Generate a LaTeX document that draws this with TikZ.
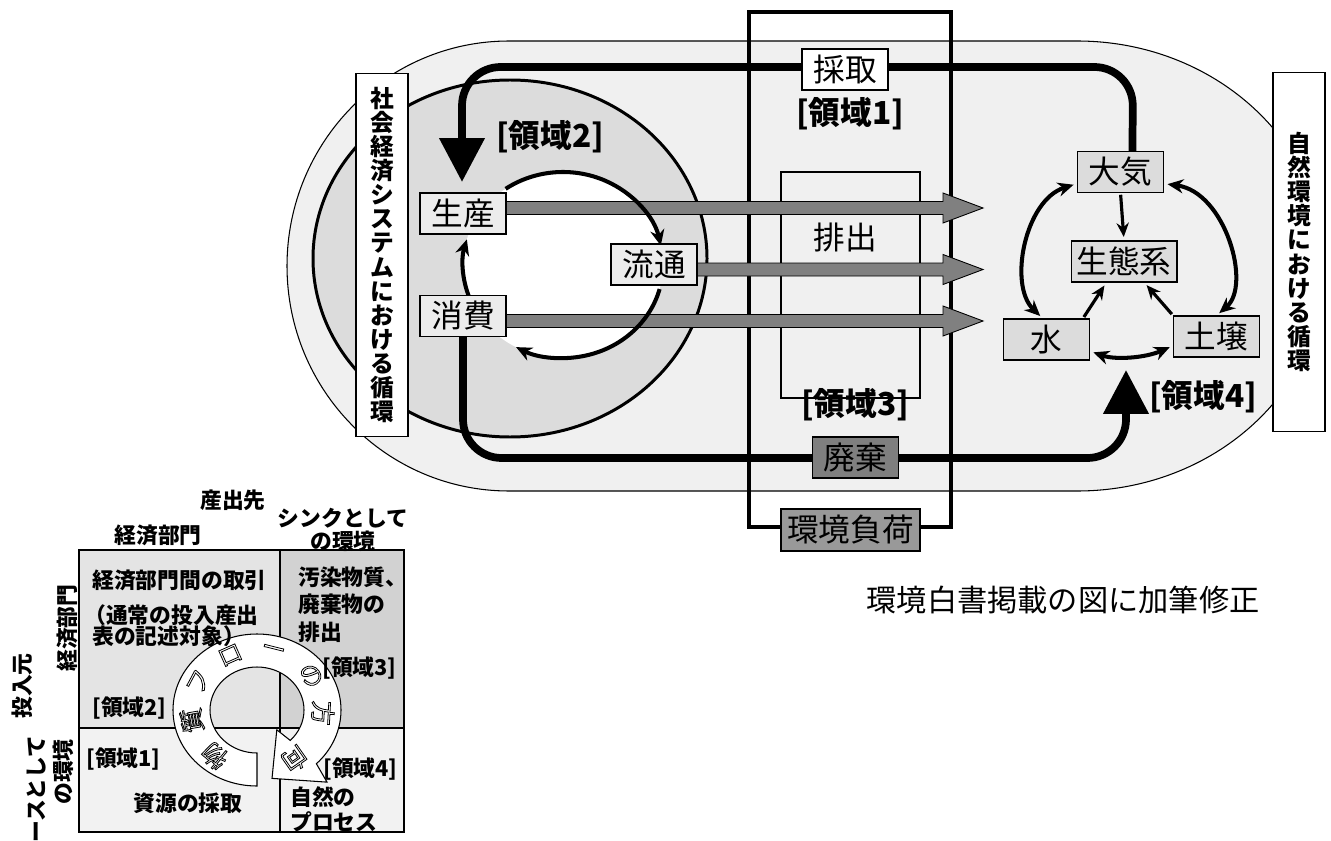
\documentclass[tikz,border=0pt]{standalone}
\usepackage{fontspec}
\setmainfont{Noto Sans CJK JP}
\usetikzlibrary{arrows.meta,calc}
\definecolor{bgA}{HTML}{F0F0F0}
\definecolor{ringC}{HTML}{DCDCDC}
\definecolor{boxL}{HTML}{ECECEC}
\definecolor{boxR}{HTML}{DCDCDC}
\definecolor{darkbox}{HTML}{7F7F7F}
\definecolor{midbox}{HTML}{999999}
\definecolor{arrowG}{HTML}{808080}
\definecolor{cellA}{HTML}{E4E4E4}
\definecolor{cellB}{HTML}{D2D2D2}
\definecolor{cellC}{HTML}{F2F2F2}
\pgfdeclarelayer{back}
\pgfdeclarelayer{mid}
\pgfsetlayers{back,mid,main}
\newcommand{\outlinetext}[1]{\special{pdf:literal direct 0.45 w 1 Tr}#1\special{pdf:literal direct 0 Tr}}
\tikzset{
  box/.style={draw=black, line width=0.6pt, inner sep=0pt, minimum width=1.72cm, minimum height=0.82cm, font=\fontsize{18}{20}\selectfont},
  lbox/.style={box, fill=boxL},
  rbox/.style={box, fill=boxR},
  region/.style={inner sep=0pt, font=\bfseries\fontsize{18}{20}\selectfont},
  vbox/.style={draw=black, fill=white, line width=0.6pt, align=center, minimum width=1.04cm, inner sep=0pt, font=\bfseries\fontsize{13.5}{13.7}\selectfont},
  thick flow/.style={line width=4.4pt, rounded corners=22pt, -{Triangle[length=25pt,width=25pt]}},
  cyc/.style={line width=2.3pt, -{Stealth[length=9pt,width=8pt]}},
  dcyc/.style={line width=2.3pt, {Stealth[length=9pt,width=8pt]}-{Stealth[length=9pt,width=8pt]}},
  small arrow/.style={line width=1.8pt, -{Stealth[length=8pt,width=7pt]}, shorten <=1pt, shorten >=2pt},
  grayarr/.style={fill=arrowG, draw=black, line width=0.5pt},
  tbl/.style={inner sep=0pt, font=\bfseries\fontsize{12.4}{14}\selectfont},
  ringchar/.style={inner sep=0pt, text=black, font=\fontsize{14}{15}\selectfont},
}
\newcommand{\grarrow}[2]{%
  \filldraw[grayarr] ($(#1.east |- #2)+(0,-6.5)$) -- ($(#2)+(-40,-6.5)$) -- ($(#2)+(-40,-15)$) -- (#2)
    -- ($(#2)+(-40,15)$) -- ($(#2)+(-40,6.5)$) -- ($(#1.east |- #2)+(0,6.5)$) -- cycle;}
\begin{document}
\begin{tikzpicture}[x=0.02cm, y=-0.02cm]
\useasboundingbox (0,0) rectangle (1331,841);

% ---------- nodes ----------
\node[lbox] (seisan) at (463,213.5) {生産};
\node[lbox] (ryutsu) at (654,264.5) {流通};
\node[lbox] (shohi) at (463,316) {消費};
\node[rbox] (daiki) at (1120.5,172) {大気};
\node[rbox, minimum width=2.12cm] (seitai) at (1124,261.5) {生態系};
\node[rbox] (mizu) at (1046.5,339.5) {水};
\node[rbox] (dojo) at (1216.5,336.5) {土壌};
\node[box, fill=white] (saishu) at (845,69.5) {採取};
\node[box, fill=darkbox] (haiki) at (855.5,457.5) {廃棄};
\node[box, fill=midbox, minimum width=2.78cm, minimum height=0.84cm] (kankyo) at (850.5,530) {環境負荷};

\node[region] (r1) at (850,114) {[領域1]};
\node[region] (r2) at (550,137) {[領域2]};
\node[region] (r3) at (855,405) {[領域3]};
\node[region] (r4) at (1203,397) {[領域4]};
\node[inner sep=0pt, font=\fontsize{18}{20}\selectfont] (haishutsu) at (845,237) {排出};
\node[inner sep=0pt, font=\fontsize{17.2}{19}\selectfont] (note) at (1063,600) {環境白書掲載の図に加筆修正};

\node[vbox, minimum height=7.28cm] (lsys) at (382,255) {社\\会\\経\\済\\シ\\ス\\テ\\ム\\に\\お\\け\\る\\循\\環};
\node[vbox, minimum height=7.2cm] (rsys) at (1299,252) {自\\然\\環\\境\\に\\お\\け\\る\\循\\環};

\coordinate (t1) at (983,208);
\coordinate (t2) at (983,269.5);
\coordinate (t3) at (983,321);
\coordinate (r4tip) at (1126,370);

% ---------- background shapes ----------
\begin{pgfonlayer}{back}
\fill[white] (0,0) rectangle (1331,841);
\filldraw[fill=bgA, draw=black, line width=0.6pt] (509,41) -- (1077,41)
  arc[start angle=-90, end angle=90, x radius=248, y radius=225] -- (509,491)
  arc[start angle=90, end angle=270, x radius=222, y radius=225] -- cycle;
\filldraw[fill=ringC, draw=black, line width=1.7pt] (510,258.5) ellipse[x radius=197, y radius=178.5];
\fill[white] (563,265) ellipse[x radius=100, y radius=93];
\draw[line width=0.6pt] (781,172) rectangle (920,398);
\draw[line width=2.4pt] (749,12) rectangle (951,527);
% table
\fill[cellA] (79,550) rectangle (280,728);
\fill[cellB] (280,550) rectangle (404,728);
\fill[cellC] (79,728) rectangle (404,832);
\draw[line width=0.6pt] (79,550) rectangle (404,832);
\draw[line width=0.6pt] (280,550) -- (280,832);
\draw[line width=0.6pt] (79,728) -- (404,728);
\end{pgfonlayer}

% ---------- connectors ----------
\begin{pgfonlayer}{mid}
\draw[thick flow, shorten >=6pt] ([xshift=6.8pt]daiki.north) -- (1133,67) -- (462,67) -- (seisan.north -| 462,0);
\draw[thick flow] (shohi.south) -- (463,458) -- (1126,458) -- (r4tip);
\grarrow{seisan}{t1}
\grarrow{ryutsu}{t2}
\grarrow{shohi}{t3}
% inner cycle
\draw[cyc] (563,265) ++(-125:100 and 93) arc[start angle=-125, end angle=-12, x radius=100, y radius=93];
\draw[cyc] (563,265) ++(15:100 and 93) arc[start angle=15, end angle=118, x radius=100, y radius=93];
\draw[cyc] (563,265) ++(160:100 and 93) arc[start angle=160, end angle=196, x radius=100, y radius=93];
% natural cycle
\draw[dcyc, shorten <=2pt, shorten >=2pt] (daiki.195) .. controls (1025,200) and (1008,285) .. (mizu.100);
\draw[dcyc, shorten <=2pt, shorten >=2pt] (daiki.-15) .. controls (1225,192) and (1252,285) .. (dojo.north);
\draw[dcyc, shorten <=2pt, shorten >=2pt] (mizu.-15) .. controls (1115,360) and (1145,358) .. (dojo.192);
\draw[small arrow] (daiki.south) -- (seitai.north);
\draw[small arrow] (mizu.30) -- (seitai.-130);
\draw[small arrow] (dojo.north west) -- (seitai.-46);
% ring arrow in table
\filldraw[fill=white, draw=black, line width=0.6pt, shift={(257,710)}]
  (90:47 and 43) -- (90:84 and 76) arc[start angle=90, end angle=405, x radius=84, y radius=76]
  -- (45:99 and 102) -- (77.6:70 and 70) -- (45:28 and 28) -- (45:47 and 43)
  arc[start angle=45, end angle=-270, x radius=47, y radius=43] -- cycle;
\end{pgfonlayer}

% ring characters
\begin{scope}[shift={(257,710)}]
\node[ringchar, rotate=140] (c1) at (-230:66 and 60) {\outlinetext{物}};
\node[ringchar, rotate=100] (c2) at (-190:66 and 60) {\outlinetext{質}};
\node[ringchar, rotate=62] (c3) at (-152:66 and 60) {\outlinetext{フ}};
\node[ringchar, rotate=24] (c4) at (-114:66 and 60) {\outlinetext{ロ}};
\node[ringchar, rotate=-14] (c5) at (-76:66 and 60) {\outlinetext{ー}};
\node[ringchar, rotate=-55] (c6) at (-35:66 and 60) {\outlinetext{の}};
\node[ringchar, rotate=-93] (c7) at (3:66 and 60) {\outlinetext{方}};
\node[ringchar, rotate=-145] (c8) at (55:66 and 60) {\outlinetext{向}};
\end{scope}

% table texts
\node[tbl] (h1) at (233,500) {産出先};
\node[tbl] (h2) at (158,535) {経済部門};
\node[tbl] (h3a) at (343,518) {シンクとして};
\node[tbl] (h3b) at (343,541) {の環境};
\node[tbl, anchor=west] (a1) at (92,580) {経済部門間の取引};
\node[tbl, anchor=west] (a2) at (84,615) {（通常の投入産出};
\node[tbl, anchor=west] (a3) at (92,636) {表の記述対象）};
\node[tbl, anchor=west] (b1) at (298,577) {汚染物質、};
\node[tbl, anchor=west] (b2) at (298,604) {廃棄物の};
\node[tbl, anchor=west] (b3) at (298,632) {排出};
\node[tbl, anchor=west] (b4) at (322,668) {[領域3]};
\node[tbl, anchor=west] (a4) at (92,708) {[領域2]};
\node[tbl, anchor=west] (c1t) at (86,759) {[領域1]};
\node[tbl, anchor=west] (d1) at (323,769) {[領域4]};
\node[tbl] (c2t) at (188,803) {資源の採取};
\node[tbl, anchor=west] (d2) at (290,797) {自然の};
\node[tbl, anchor=west] (d3) at (290,822) {プロセス};
\node[tbl, rotate=90] (v1) at (67,628) {経済部門};
\node[tbl, rotate=90] (v2) at (22,686) {投入元};
\node[tbl, rotate=90] (v3) at (37,800) {ソースとして};
\node[tbl, rotate=90] (v4) at (63,772) {の環境};
\end{tikzpicture}
\end{document}
